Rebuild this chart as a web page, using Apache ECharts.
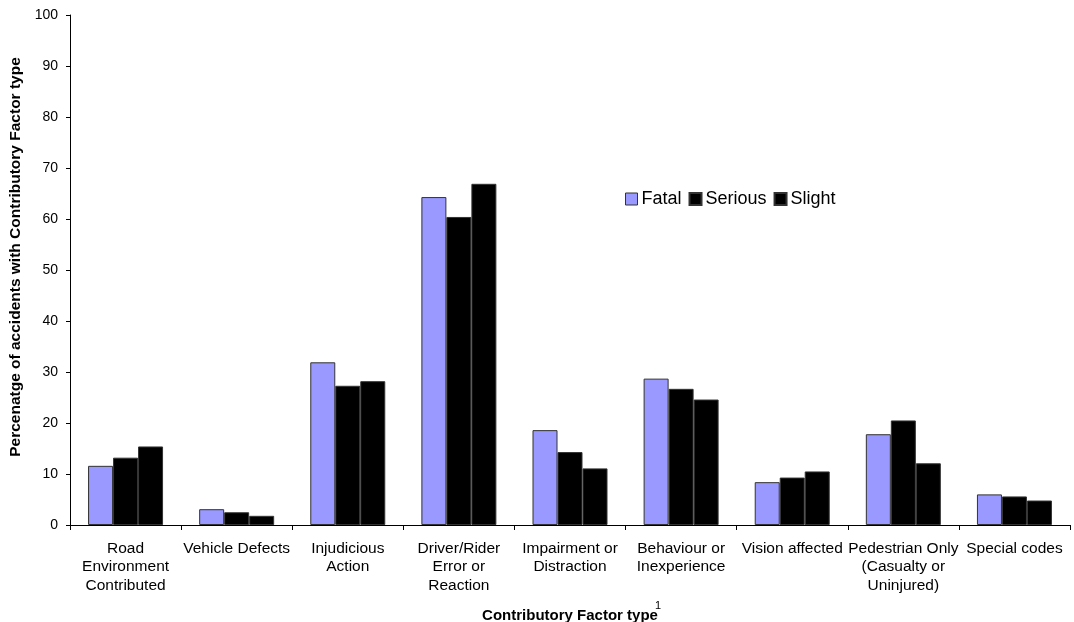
<!DOCTYPE html>
<html><head><meta charset="utf-8">
<script src="https://cdn.jsdelivr.net/npm/echarts@6/dist/echarts.min.js"></script>
<style>html,body{margin:0;padding:0;background:#fff}#c{width:1074px;height:622px}</style>
</head><body><div id="c"></div>
<script>
const categories = ["Road\nEnvironment\nContributed","Vehicle Defects","Injudicious\nAction","Driver/Rider\nError or\nReaction","Impairment or\nDistraction","Behaviour or\nInexperience","Vision affected","Pedestrian Only\n(Casualty or\nUninjured)","Special codes"];
const fatal   = [11.6, 3.1, 31.9, 64.3, 18.6, 28.7, 8.4, 17.8, 6.0];
const serious = [13.2, 2.5, 27.3, 60.4, 14.3, 26.7, 9.3, 20.5, 5.6];
const slight  = [15.4, 1.8, 28.2, 66.9, 11.1, 24.6, 10.5, 12.1, 4.8];
const yTicks = [0,10,20,30,40,50,60,70,80,90,100];

const font = 'Liberation Sans, Arial, sans-serif';
const chart = echarts.init(document.getElementById('c'), null, {renderer:'canvas'});
function ser(name, data, color){
  return {name, type:'bar', data, barWidth:25, barGap:'0%',
    itemStyle:{color, borderColor:'#333', borderWidth:1}};
}
chart.setOption({
  animation:false,
  textStyle:{fontFamily:font},
  grid:{left:70, right:4, top:15, bottom:97, containLabel:false, outerBoundsMode:'none'},
  legend:{left:620, top:185, icon:'rect', itemWidth:12, itemHeight:12, itemGap:7,
    textStyle:{fontSize:18, color:'#000', fontFamily:font, padding:[0,0,0,-1]},
    data:[{name:'Fatal',itemStyle:{borderColor:'#333',borderWidth:1}},{name:'Serious'},{name:'Slight'}]},
  xAxis:{type:'category', data:categories,
    name:'Contributory Factor type', nameLocation:'middle', nameGap:83,
    nameTextStyle:{fontSize:15, fontWeight:'bold', color:'#000', fontFamily:font},
    axisLine:{lineStyle:{color:'#000', width:1}},
    axisTick:{show:true, length:5, alignWithLabel:false, lineStyle:{color:'#000'}},
    axisLabel:{interval:0, fontSize:15.5, color:'#000', lineHeight:18.5, margin:14, fontFamily:font}},
  yAxis:{type:'value', min:0, max:100, interval:10,
    name:'Percenatge of accidents with Contributory Factor type', nameLocation:'middle', nameGap:44,
    nameTextStyle:{fontSize:15.5, fontWeight:'bold', color:'#000', fontFamily:font, padding:[0,0,0,26]},
    axisLine:{show:true, lineStyle:{color:'#000', width:1}},
    axisTick:{show:true, length:4, lineStyle:{color:'#000'}},
    splitLine:{show:false},
    axisLabel:{fontSize:14, color:'#000', margin:12, fontFamily:font,
      formatter:v=> yTicks.includes(v) ? String(v) : ''}},
  graphic:[{type:'text', left:655, top:600, style:{text:'1', fontSize:11, fill:'#000', fontFamily:font}}],
  series:[ser('Fatal', fatal, '#9999FF'), ser('Serious', serious, '#000000'), ser('Slight', slight, '#000000')]
});
</script></body></html>
